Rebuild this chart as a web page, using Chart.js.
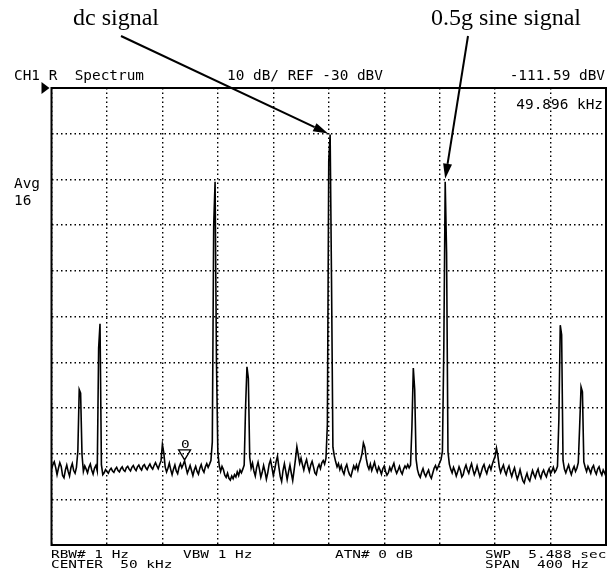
<!DOCTYPE html>
<html>
<head>
<meta charset="utf-8">
<script src="https://cdn.jsdelivr.net/npm/chart.js@4"></script>
<style>
  body { margin: 0; background: #fff; }
  #wrap { position: relative; width: 613px; height: 576px; overflow: hidden; }
  canvas { position: absolute; left: 0; top: 0; }
  .t { position: absolute; font-family: "DejaVu Sans Mono", monospace; font-size: 14.4px; line-height: 14px; white-space: pre; color: #000; }
  .sm { transform: scaleY(0.78); transform-origin: 0 12px; }
  .ann { position: absolute; font-family: "Liberation Serif", "Times New Roman", serif; font-size: 24px; line-height: 26px; white-space: pre; color: #000; }
</style>
</head>
<body>
<div id="wrap">
  <canvas id="spec" width="613" height="576"></canvas>

  <div class="ann" style="left:73px; top:4px;">dc signal</div>
  <div class="ann" style="left:431px; top:4px;">0.5g sine signal</div>

  <div class="t" style="left:14px; top:68px;">CH1 R  Spectrum</div>
  <div class="t" style="left:227px; top:68px;">10 dB/ REF -30 dBV</div>
  <div class="t" style="right:8px; top:68px;">-111.59 dBV</div>
  <div class="t" style="right:10px; top:97px;">49.896 kHz</div>
  <div class="t" style="left:14px; top:176px;">Avg</div>
  <div class="t" style="left:14px; top:193px;">16</div>
  <div class="t sm" style="left:181px; top:436px;">0</div>

  <div class="t sm" style="left:51px; top:546px;">RBW# 1 Hz</div>
  <div class="t sm" style="left:183px; top:546px;">VBW 1 Hz</div>
  <div class="t sm" style="left:335px; top:546px;">ATN# 0 dB</div>
  <div class="t sm" style="left:485px; top:546px;">SWP  5.488 sec</div>
  <div class="t sm" style="left:51px; top:556px;">CENTER  50 kHz</div>
  <div class="t sm" style="left:485px; top:556px;">SPAN  400 Hz</div>
</div>

<script>
// sweep settings
const centerHz = 50000;
const spanHz = 400;
const refLevel = -30;     // dBV, top of screen
const dbPerDiv = 10;
const divisions = 10;

// marker readout
const markerHz = 49896;
const markerDb = -111.59;

// peaks pointed at by the notes
const dcPeakHz = 50001;
const sinePeakHz = 50084;

// averaged trace, 401 bins (1 Hz each), dBV
const levels = [
  -113.5,-112.4,-111.8,-113.0,-114.6,-113.2,-112.0,-112.8,-114.8,-115.3,
  -113.6,-112.5,-113.9,-114.9,-113.1,-112.2,-113.7,-114.3,-113.0,-109.5,
  -96.0,-96.8,-110.2,-113.9,-112.7,-113.4,-114.2,-113.0,-112.3,-113.6,
  -114.5,-113.2,-112.6,-113.8,-86.9,-81.6,-112.4,-114.6,-114.2,-113.5,
  -113.9,-114.3,-113.6,-113.2,-113.8,-114.1,-113.4,-113.0,-113.7,-114.0,
  -113.3,-112.9,-113.6,-113.9,-113.1,-112.8,-113.4,-113.8,-113.0,-112.6,
  -113.3,-113.7,-112.9,-112.5,-113.2,-113.6,-112.7,-112.4,-113.1,-113.5,
  -112.8,-112.3,-113.0,-113.4,-112.6,-112.0,-112.7,-113.3,-112.4,-111.6,
  -108.0,-109.8,-112.9,-114.0,-113.2,-112.1,-113.5,-114.6,-113.4,-112.5,
  -113.8,-114.4,-113.0,-112.2,-113.1,-112.4,-111.59,-113.0,-114.3,-113.5,
  -112.6,-113.7,-114.8,-113.6,-112.8,-113.9,-114.5,-113.2,-112.4,-113.5,
  -114.1,-112.9,-112.2,-113.0,-112.3,-111.5,-107.5,-60.1,-50.5,-89.7,
  -109.8,-112.6,-113.9,-112.8,-113.5,-114.7,-115.2,-114.3,-115.4,-115.8,
  -114.9,-115.5,-114.6,-115.1,-114.0,-114.8,-113.6,-114.2,-113.4,-112.5,
  -99.8,-91.0,-93.5,-110.8,-113.2,-112.1,-113.8,-114.9,-113.0,-111.9,
  -113.4,-115.2,-114.1,-112.6,-113.9,-115.6,-114.2,-112.3,-111.4,-113.0,
  -114.8,-113.5,-111.8,-110.6,-112.9,-115.0,-116.1,-113.7,-112.2,-113.9,
  -115.7,-114.0,-112.5,-114.3,-115.9,-113.6,-111.2,-108.5,-110.3,-112.1,
  -111.0,-112.4,-113.6,-112.2,-111.3,-112.8,-113.9,-112.5,-111.7,-112.9,
  -114.2,-114.6,-113.1,-112.4,-113.3,-112.0,-111.5,-112.3,-111.0,-103.7,
  -46.0,-40.2,-72.0,-108.6,-110.5,-111.8,-112.9,-112.2,-113.5,-112.6,
  -113.8,-114.5,-113.1,-112.4,-113.7,-114.6,-115.0,-113.8,-112.7,-113.4,
  -112.5,-113.6,-112.2,-111.3,-110.0,-107.7,-108.6,-111.0,-112.6,-113.4,
  -112.3,-113.7,-112.8,-111.9,-113.2,-114.0,-112.9,-113.6,-114.5,-113.3,
  -112.7,-113.9,-114.7,-114.2,-113.0,-113.8,-112.9,-112.1,-113.5,-114.3,
  -113.6,-112.8,-113.9,-114.5,-113.4,-112.7,-113.2,-112.4,-113.1,-112.5,
  -104.2,-91.3,-96.0,-111.2,-113.5,-114.6,-115.2,-114.1,-113.3,-114.4,
  -115.0,-114.2,-113.6,-114.8,-115.4,-114.3,-113.2,-112.6,-113.5,-112.8,
  -112.0,-111.3,-109.5,-86.9,-50.5,-66.0,-109.6,-112.3,-113.4,-114.2,
  -113.0,-113.8,-114.9,-114.0,-112.9,-113.7,-115.1,-114.6,-113.3,-112.5,
  -113.6,-114.3,-113.1,-112.2,-113.5,-114.6,-113.8,-112.7,-113.9,-115.0,
  -114.1,-113.0,-112.4,-113.6,-114.4,-113.2,-112.6,-113.5,-112.3,-111.4,
  -110.6,-108.8,-110.5,-112.9,-114.1,-113.2,-112.5,-113.8,-114.6,-113.4,
  -112.7,-114.0,-115.0,-113.9,-113.1,-114.5,-115.6,-114.7,-113.5,-114.8,
  -115.9,-116.4,-115.2,-114.3,-115.5,-116.0,-114.8,-113.7,-114.6,-115.3,
  -114.1,-113.4,-114.7,-115.4,-114.2,-113.6,-114.5,-115.1,-114.0,-113.3,
  -114.4,-113.8,-113.0,-114.1,-113.6,-112.8,-102.6,-81.9,-84.0,-111.5,
  -113.4,-114.2,-113.3,-112.5,-113.7,-114.6,-113.5,-112.8,-113.9,-113.2,
  -112.0,-104.0,-95.4,-96.5,-111.8,-113.0,-113.9,-112.8,-113.5,-114.3,
  -113.1,-112.6,-113.8,-114.5,-113.4,-112.9,-114.0,-114.7,-113.6,-114.2,
  -115.0
];

const startHz = centerHz - spanHz / 2;
const binHz = spanHz / (levels.length - 1);
const trace = levels.map((v, i) => ({ x: startHz + i * binHz, y: v }));
const levelAt = hz => levels[Math.round((hz - startHz) / binHz)];

function arrow(ctx, x0, y0, x1, y1) {
  const ang = Math.atan2(y1 - y0, x1 - x0);
  const len = 15, half = 4.5;
  const bx = x1 - len * Math.cos(ang), by = y1 - len * Math.sin(ang);
  ctx.beginPath();
  ctx.moveTo(x0, y0);
  ctx.lineTo(bx, by);
  ctx.stroke();
  ctx.beginPath();
  ctx.moveTo(x1, y1);
  ctx.lineTo(bx + half * Math.sin(ang), by - half * Math.cos(ang));
  ctx.lineTo(bx - half * Math.sin(ang), by + half * Math.cos(ang));
  ctx.closePath();
  ctx.fill();
}

const overlay = {
  id: 'overlay',
  afterDatasetsDraw(chart) {
    const { ctx, chartArea: a, scales: { x, y } } = chart;
    ctx.save();
    ctx.strokeStyle = '#000';
    ctx.fillStyle = '#000';

    // screen frame
    ctx.lineWidth = 2;
    ctx.strokeRect(a.left, a.top, a.right - a.left, a.bottom - a.top);

    // reference level pointer
    ctx.beginPath();
    ctx.moveTo(a.left - 10, a.top - 6);
    ctx.lineTo(a.left - 10, a.top + 6);
    ctx.lineTo(a.left - 2, a.top);
    ctx.closePath();
    ctx.fill();

    // marker
    const mx = x.getPixelForValue(markerHz);
    const my = y.getPixelForValue(markerDb);
    ctx.lineWidth = 1.3;
    ctx.beginPath();
    ctx.moveTo(mx - 6, my - 11);
    ctx.lineTo(mx + 6, my - 11);
    ctx.lineTo(mx, my - 1);
    ctx.closePath();
    ctx.stroke();

    // notes
    ctx.lineWidth = 2;
    arrow(ctx, 121, 36, x.getPixelForValue(dcPeakHz) - 2, y.getPixelForValue(levelAt(dcPeakHz)) - 1);
    arrow(ctx, 468, 36, x.getPixelForValue(sinePeakHz), y.getPixelForValue(levelAt(sinePeakHz)) - 3);
    ctx.restore();
  }
};

new Chart(document.getElementById('spec'), {
  type: 'line',
  data: {
    datasets: [{
      data: trace,
      borderColor: '#000',
      borderWidth: 1.6,
      borderJoinStyle: 'miter',
      pointRadius: 0,
      tension: 0,
      fill: false
    }]
  },
  options: {
    responsive: false,
    animation: false,
    layout: { padding: { left: 51.5, top: 88, right: 7, bottom: 31 } },
    plugins: { legend: { display: false }, tooltip: { enabled: false } },
    scales: {
      x: {
        type: 'linear',
        min: startHz,
        max: startHz + spanHz,
        ticks: { display: false, stepSize: spanHz / divisions },
        grid: { color: '#000', lineWidth: 1.4, drawTicks: false },
        border: { display: false, dash: [1.5, 3] }
      },
      y: {
        min: refLevel - dbPerDiv * divisions,
        max: refLevel,
        ticks: { display: false, stepSize: dbPerDiv },
        grid: { color: '#000', lineWidth: 1.4, drawTicks: false },
        border: { display: false, dash: [1.5, 3] }
      }
    }
  },
  plugins: [overlay]
});
</script>
</body>
</html>
